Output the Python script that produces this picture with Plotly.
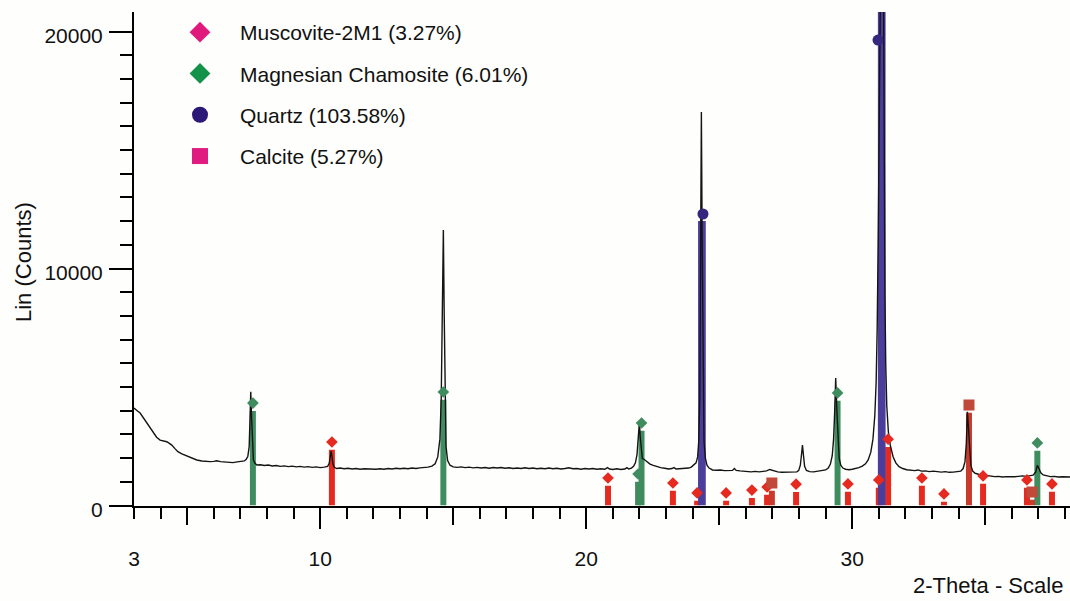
import plotly.graph_objects as go

# ---------------- measured diffraction trace (2-theta, Lin counts) ----------------
two_theta = [
    3.00, 3.04, 3.12, 3.23, 3.35, 3.48, 3.60, 3.71, 3.85, 3.98, 4.10, 4.23, 4.33, 4.42, 4.54,
    4.65, 4.80, 4.98, 5.15, 5.36, 5.55, 5.70, 5.86, 6.00, 6.11, 6.25, 6.40, 6.55, 6.72, 6.88,
    7.05, 7.15, 7.22, 7.28, 7.33, 7.36, 7.39, 7.42, 7.45, 7.49, 7.55, 7.62, 7.75, 7.90, 8.05,
    8.20, 8.35, 8.50, 8.65, 8.80, 8.95, 9.10, 9.25, 9.40, 9.55, 9.70, 9.85, 10.00, 10.15, 10.28,
    10.34, 10.38, 10.41, 10.44, 10.48, 10.53, 10.62, 10.75, 10.90, 11.05, 11.20, 11.35, 11.50, 11.65, 11.80,
    11.95, 12.10, 12.25, 12.40, 12.55, 12.70, 12.85, 13.00, 13.15, 13.30, 13.45, 13.60, 13.75, 13.90, 14.05,
    14.20, 14.32, 14.42, 14.50, 14.55, 14.59, 14.63, 14.66, 14.69, 14.73, 14.79, 14.88, 15.00, 15.15, 15.30,
    15.45, 15.60, 15.75, 15.90, 16.05, 16.20, 16.35, 16.50, 16.65, 16.80, 16.95, 17.10, 17.25, 17.40, 17.55,
    17.70, 17.85, 18.00, 18.15, 18.30, 18.45, 18.60, 18.75, 18.90, 19.05, 19.20, 19.35, 19.50, 19.65, 19.80,
    19.95, 20.10, 20.25, 20.40, 20.55, 20.70, 20.80, 20.88, 21.00, 21.15, 21.30, 21.45, 21.53, 21.60, 21.70,
    21.78, 21.85, 21.91, 21.96, 22.00, 22.03, 22.07, 22.11, 22.16, 22.22, 22.30, 22.40, 22.52, 22.65, 22.80,
    22.95, 23.10, 23.22, 23.30, 23.38, 23.50, 23.62, 23.75, 23.85, 23.95, 24.05, 24.13, 24.19, 24.23, 24.27,
    24.30, 24.33, 24.36, 24.39, 24.43, 24.48, 24.54, 24.62, 24.75, 24.90, 25.05, 25.20, 25.35, 25.50, 25.57,
    25.64, 25.78, 25.92, 26.06, 26.20, 26.35, 26.50, 26.65, 26.78, 26.90, 26.97, 27.05, 27.20, 27.35, 27.50,
    27.65, 27.80, 27.92, 27.99, 28.05, 28.09, 28.13, 28.17, 28.21, 28.28, 28.40, 28.55, 28.70, 28.85, 29.00,
    29.10, 29.18, 29.25, 29.30, 29.34, 29.38, 29.42, 29.46, 29.51, 29.57, 29.65, 29.75, 29.88, 30.00, 30.12,
    30.25, 30.38, 30.50, 30.60, 30.70, 30.78, 30.85, 30.90, 30.94, 30.98, 31.01, 31.04, 31.07, 31.14, 31.17,
    31.20, 31.23, 31.26, 31.30, 31.36, 31.44, 31.54, 31.64, 31.76, 31.90, 32.05, 32.20, 32.35, 32.48, 32.60,
    32.75, 32.90, 33.05, 33.20, 33.35, 33.50, 33.65, 33.80, 33.95, 34.08, 34.17, 34.24, 34.29, 34.33, 34.37,
    34.41, 34.46, 34.53, 34.62, 34.75, 34.90, 35.05, 35.20, 35.35, 35.50, 35.65, 35.80, 35.95, 36.10, 36.25,
    36.40, 36.55, 36.68, 36.80, 36.90, 36.96, 37.02, 37.09, 37.18, 37.30, 37.45, 37.60, 37.75, 37.90, 38.05,
    38.20,
]
counts = [
    4110, 4060, 4000, 3900, 3700, 3480, 3270, 3060, 2880, 2760, 2720, 2690, 2620, 2550, 2400,
    2270, 2180, 2090, 2000, 1920, 1880, 1860, 1850, 1860, 1890, 1850, 1830, 1820, 1810, 1840,
    1850, 1880, 1950, 2080, 2480, 3300, 4800, 3700, 2600, 1920, 1780, 1710, 1720, 1690, 1710,
    1670, 1690, 1650, 1670, 1640, 1660, 1630, 1650, 1620, 1640, 1610, 1630, 1600, 1620, 1650,
    1780, 2000, 2300, 2080, 1750, 1610, 1560, 1580, 1550, 1570, 1540, 1560, 1530, 1550, 1540,
    1560, 1530, 1550, 1530, 1560, 1540, 1570, 1550, 1570, 1550, 1580, 1560, 1590, 1600, 1620,
    1660, 1760, 2050, 2800, 4500, 8000, 11620, 8200, 4200, 2500, 1900, 1700, 1630, 1610, 1630,
    1600, 1620, 1590, 1610, 1580, 1600, 1570, 1600, 1580, 1600, 1570, 1590, 1560, 1580, 1560,
    1590, 1560, 1580, 1550, 1570, 1550, 1580, 1550, 1570, 1540, 1560, 1590, 1550, 1560, 1530,
    1560, 1540, 1560, 1530, 1550, 1530, 1600, 1540, 1520, 1550, 1520, 1540, 1600, 1540, 1580,
    1650, 1800, 2150, 2800, 3520, 2900, 2250, 1980, 1960, 1900, 1820, 1750, 1690, 1640, 1600,
    1570, 1540, 1560, 1600, 1540, 1550, 1530, 1560, 1580, 1620, 1700, 1800, 2050, 2700, 4500,
    9000, 16600, 11000, 5500, 2700, 2000, 1700, 1580, 1500, 1490, 1500, 1470, 1490, 1480, 1560,
    1480, 1460, 1440, 1450, 1420, 1440, 1420, 1440, 1460, 1520, 1500, 1450, 1420, 1400, 1410,
    1390, 1400, 1420, 1480, 1700, 2100, 2550, 2100, 1650, 1480, 1430, 1420, 1440, 1450, 1500,
    1580, 1750, 2100, 2800, 3900, 5380, 4100, 2900, 2000, 1700, 1580, 1530, 1510, 1530, 1560,
    1600, 1660, 1760, 1920, 2250, 2800, 3800, 5200, 7500, 11500, 17000, 25000, 32000, 32000, 24000,
    15000, 9000, 6000, 4200, 3100, 2500, 2050, 1800, 1640, 1560, 1510, 1490, 1470, 1500, 1450,
    1460, 1430, 1450, 1420, 1410, 1430, 1400, 1410, 1420, 1450, 1560, 1850, 2600, 3950, 3300,
    2300, 1700, 1450, 1360, 1320, 1290, 1260, 1240, 1220, 1230, 1200, 1220, 1200, 1210, 1230,
    1250, 1230, 1240, 1280, 1420, 1700, 1560, 1380, 1290, 1250, 1220, 1230, 1200, 1210, 1190,
    1200,
]

# ---------------- reference pattern lines (2-theta, symbol height in counts) ----------------
musc_2theta = [10.44, 20.82, 23.26, 24.17, 25.26, 26.23, 26.80, 27.89, 29.84, 31.00, 31.35,
               32.62, 33.45, 34.92, 36.57, 37.51]
musc_counts = [2680, 1160, 950, 530, 530, 650, 780, 900, 910, 1080, 2800,
               1160, 490, 1250, 1080, 910]

cham_2theta = [7.47, 14.63, 21.95, 22.08, 29.45, 36.96]
cham_counts = [4320, 4790, 1330, 3480, 4750, 2640]

qtz_line_2theta = [24.35, 31.11]
qtz_line_counts = [12000, 32000]
qtz_symbol_2theta = [24.39, 30.97]
qtz_symbol_counts = [12300, 19640]

calc_2theta = [26.98, 34.39, 36.76]
calc_counts = [950, 4240, 570]

phase_names = ["Muscovite-2M1 (3.27%)", "Magnesian Chamosite (6.01%)",
               "Quartz (103.58%)", "Calcite (5.27%)"]

x_tickvals = [3, 10, 20, 30]
y_range_top = 20823
x_range = [3, 38.188]

# ---------------- styles ----------------
FONT = "Arial, 'Liberation Sans', sans-serif"
INK = "#111111"
GAP = 330          # gap (counts) between stick top and its symbol
STICK_W = 0.225    # stick width in 2-theta units
W, H = 1070, 601

MUSC_C = "#E62A20"
CHAM_C = "#3F8C5E"
QTZ_LINE_C = "#4A3E9A"
QTZ_SYM_C = "#37267F"
CALC_LINE_C = "#C83A2C"
CALC_SYM_C = "#C0493A"

fig = go.Figure()

# sticks (bars are rendered below scatter traces)
def sticks(xs, heights, color, width=STICK_W):
    fig.add_trace(go.Bar(x=xs, y=heights, width=width, marker=dict(color=color, line=dict(width=0)),
                         showlegend=False, hoverinfo="skip"))

sticks(musc_2theta, [c - GAP for c in musc_counts], MUSC_C)
sticks(cham_2theta, [c - GAP for c in cham_counts], CHAM_C)
sticks(calc_2theta, [c - GAP for c in calc_counts], CALC_LINE_C)
sticks(qtz_line_2theta, qtz_line_counts, QTZ_LINE_C, width=0.29)

# measured trace
fig.add_trace(go.Scatter(x=two_theta, y=counts, mode="lines",
                         line=dict(color="#141414", width=1.4), showlegend=False, hoverinfo="skip"))

# symbols on top of the sticks
fig.add_trace(go.Scatter(x=musc_2theta, y=musc_counts, mode="markers", showlegend=False,
                         marker=dict(symbol="diamond", size=9, color=MUSC_C), hoverinfo="skip"))
fig.add_trace(go.Scatter(x=cham_2theta, y=cham_counts, mode="markers", showlegend=False,
                         marker=dict(symbol="diamond", size=9, color=CHAM_C), hoverinfo="skip"))
fig.add_trace(go.Scatter(x=calc_2theta, y=calc_counts, mode="markers", showlegend=False,
                         marker=dict(symbol="square", size=11, color=CALC_SYM_C), hoverinfo="skip"))
fig.add_trace(go.Scatter(x=qtz_symbol_2theta, y=qtz_symbol_counts, mode="markers", showlegend=False,
                         marker=dict(symbol="circle", size=11, color=QTZ_SYM_C), hoverinfo="skip"))

# legend entries
legend_styles = [("diamond", "#E0197D"), ("diamond", "#14924A"), ("circle", "#2C1877"), ("square", "#E11C80")]
for name, (sym, col) in zip(phase_names, legend_styles):
    fig.add_trace(go.Scatter(x=[None], y=[None], mode="markers", name=name, legendgroup=name,
                             marker=dict(symbol=sym, size=16, color=col)))

# helper trace for the overlay axis carrying the longer ticks
fig.add_trace(go.Scatter(x=[None], y=[None], xaxis="x2", showlegend=False, hoverinfo="skip"))

fig.update_layout(
    width=W, height=H,
    margin=dict(l=0, r=0, t=0, b=0, pad=0, autoexpand=False),
    paper_bgcolor="#fefefc", plot_bgcolor="rgba(0,0,0,0)",
    barmode="overlay",
    showlegend=True,
    legend=dict(x=160 / W, y=1 - 12 / H, xanchor="left", yanchor="top",
                font=dict(family=FONT, size=21, color=INK), bgcolor="rgba(0,0,0,0)",
                tracegroupgap=11, itemwidth=70, traceorder="grouped"),
    xaxis=dict(domain=[134 / W, 1], range=x_range, tickmode="array", tickvals=x_tickvals,
               ticktext=[str(v) for v in x_tickvals], ticks="outside", ticklen=11, tickwidth=2,
               tickcolor="black", showline=True, linewidth=2, linecolor="black", showgrid=False,
               zeroline=False, tickfont=dict(family=FONT, size=21, color=INK), ticklabelstandoff=22,
               automargin=False,
               minor=dict(tick0=0, dtick=1, ticks="outside", ticklen=11, tickwidth=2,
                          tickcolor="black", showgrid=False)),
    xaxis2=dict(overlaying="x", anchor="y", side="bottom", range=x_range, tick0=0, dtick=10,
                ticks="outside", ticklen=22, tickwidth=2, tickcolor="black", showticklabels=False,
                showline=False, showgrid=False, zeroline=False, automargin=False,
                minor=dict(tick0=0, dtick=5, ticks="outside", ticklen=18, tickwidth=2,
                           tickcolor="black", showgrid=False)),
    yaxis=dict(domain=[(H - 505.5) / H, (H - 12) / H], range=[0, y_range_top],
               tick0=0, dtick=10000, tickformat="d", ticks="outside", ticklen=23, tickwidth=2,
               tickcolor="black", automargin=False,
               showline=True, linewidth=2, linecolor="black", showgrid=False, zeroline=False,
               tickfont=dict(family=FONT, size=21, color=INK), ticklabelstandoff=2,
               ticklabelshift=4,
               minor=dict(dtick=1000, ticks="outside", ticklen=12, tickwidth=2,
                          tickcolor="black", showgrid=False)),
    annotations=[
        dict(text="Lin (Counts)", x=24 / W, y=(H - 262) / H, xref="paper", yref="paper",
             textangle=-90, showarrow=False, font=dict(family=FONT, size=22, color=INK),
             xanchor="center", yanchor="middle"),
        dict(text="2-Theta - Scale", x=1065 / W, y=(H - 585) / H, xref="paper", yref="paper",
             showarrow=False, font=dict(family=FONT, size=22, color=INK),
             xanchor="right", yanchor="middle"),
    ],
)

# let the figure fill the page exactly (no default 8px body margin)
fig.write_html("out.html",
               config={"displayModeBar": False},
               post_script="document.body.style.margin='0';document.body.style.overflow='hidden';")
